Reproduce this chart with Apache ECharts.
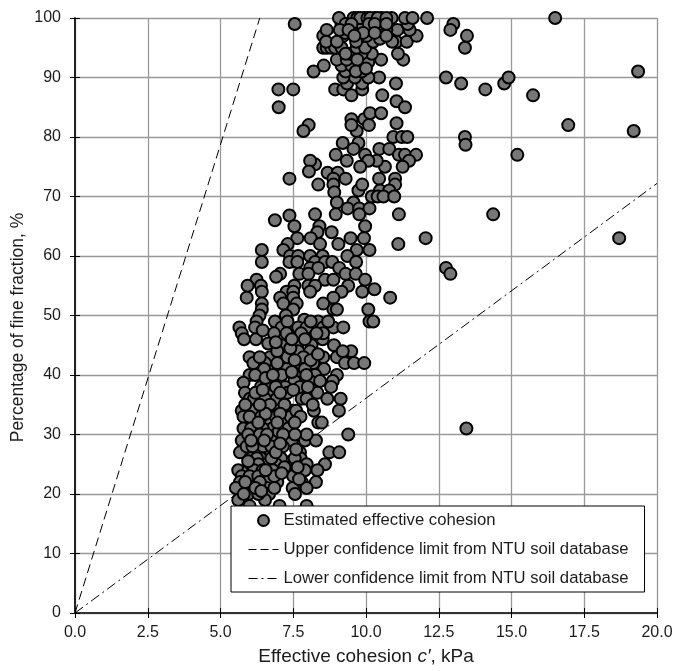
<!DOCTYPE html>
<html><head><meta charset="utf-8">
<script src="https://cdn.jsdelivr.net/npm/echarts@6/dist/echarts.min.js"></script>
<style>html,body{margin:0;padding:0;background:#fff}#c{width:676px;height:671px}</style>
</head><body><div id="c"></div>
<script>
const estimatedOutliers=[[16.5,100],[13,99],[12.9,98],[13.47,97],[13.4,95],[12.75,90],[13.27,89],[14.1,88],[14.75,89],[14.9,90],[15.74,87],[19.35,91],[16.95,82],[19.2,81],[13.4,80],[13.42,78.7],[15.2,77],[14.37,67],[18.7,63],[12.75,58],[12.9,57],[12.05,63],[13.45,31]];
const estimatedUpper=[[7.55,99],[6.99,88],[7.5,88],[7,85],[8.03,82],[7.85,81],[8.2,91],[8.55,92],[8.94,88],[9.22,88],[9.87,88],[9.5,87],[9.35,89],[9.87,89],[10.56,87],[11.03,89],[11.05,86],[11.34,85],[10.45,90],[10.08,90],[9.62,90],[9.22,90],[9.3,91],[9.85,92],[9.16,92],[9.5,92],[10.52,93],[11.28,93],[11.1,94],[10.08,92.6],[9,93],[9.34,93],[10.2,94],[9.45,94],[9.85,94],[8.53,95],[8.65,95],[8.8,95],[8.94,95],[9.16,95],[9.68,95],[9.97,95],[10.25,96],[11.05,96],[11.4,96],[10.9,96],[9.66,96],[9.22,97],[8.53,97],[8.65,98],[8.63,96],[9,96],[10.02,97],[10.48,96.5],[11.74,97],[11.5,98],[11.08,98],[10.7,98],[10.08,98],[9.62,98],[9.28,97.5],[9.16,99],[9.85,99],[10.48,99],[11.43,99],[9.57,100],[9.07,100],[9.93,100],[10.3,100],[10.54,100],[10.88,100],[11.34,100],[11.6,100],[12.1,100],[9.7,100],[9.8,100],[10.05,100],[10.15,100],[10.4,100],[10.7,100],[9.3,99],[9.5,99],[10.1,99],[10.3,99],[10.7,99],[9.1,98],[9.4,98],[9.9,97.5],[10.3,97.5],[9.6,97],[10.7,97],[9.3,94],[9.7,93],[9.85,91],[9.65,91],[10,91.5],[9.2,79],[9.74,79],[9.57,78],[8.96,77],[9.34,76],[9.97,77],[10.46,78],[10.8,78],[10.94,80],[11.23,80],[11.42,80],[9.68,81],[9.5,83],[9.5,82],[9.94,83],[10.1,82],[10.14,84],[10.52,84],[11.05,82.3],[11.13,77],[11.34,77],[11.72,77],[11.48,76],[11.26,75],[10.65,75],[10.37,76],[10.08,76],[9.8,75],[8.25,75.4],[8.08,76]];
const estimatedMiddle=[[7.37,73],[8.04,74.2],[8.36,72],[8.68,74],[9.03,74],[8.88,73],[9.3,73],[8.88,72],[8.91,70.7],[9.74,71],[9.87,72],[10.45,73],[11,73],[11,72],[10.48,71],[10.8,71],[10.2,70],[10.4,70],[10.6,70],[10.97,70],[9,69],[9.57,69],[9.37,68],[9.77,68],[10.12,68],[8.96,67],[9.77,67],[8.25,67],[11.13,67],[7.37,66.8],[6.87,66],[7.54,65],[8.4,65],[9.97,65],[8.33,64],[8.82,64],[7.64,63],[8.1,63],[9.47,63],[9.93,63],[7.31,62],[8.42,62],[9.05,62],[11.11,62],[7.16,61],[6.42,61],[9.68,61],[10.12,61],[6.42,59],[9.36,60],[7.39,60],[7.67,60],[8.08,60],[8.51,60],[7.37,59],[7.64,59],[8.25,59],[8.59,59],[8.84,59],[9.66,59],[8.08,58],[8.36,58],[9.08,58],[7.05,57],[7.71,57],[8.02,57],[6.91,56.5],[9.3,57],[9.65,57],[6.24,56],[8.59,56],[8.88,56],[9.97,56],[5.93,55],[6.39,55],[7.54,55],[8.02,55],[8.25,55],[9.39,55],[6.42,54],[7.27,54],[7.5,54],[8.08,54],[9.16,54],[9.87,54],[10.29,54.4],[5.9,53],[7.05,53],[7.5,53],[8.88,53],[10.83,53],[6.42,52],[7.16,52],[7.62,52],[8.53,52],[6.42,51],[7.5,51],[8.88,51],[9,51],[10.08,51],[6.34,50],[7.25,50],[6.24,49],[6.87,49],[7.88,49.3],[8.36,49],[10.12,49],[10.25,49],[5.65,48],[6.19,48],[7.1,48],[7.39,48],[7.67,48],[7.96,48],[8.53,48],[8.88,48],[9.22,48],[7.3,49],[8.1,49],[8.7,49]];
const estimatedLower=[[5.73,47],[5.81,46],[6.22,46],[6.84,47],[7.27,47],[7.77,47],[8.51,46],[8.13,46],[6.64,45.3],[7.1,45],[7.64,45],[8.13,45],[8.9,45],[8.53,47],[7.67,44],[8.08,44],[7.1,43],[6,43],[6.7,43],[8.53,43],[9,43],[9.49,44],[9.2,44],[9.28,42],[9.59,42],[9.94,42],[6.13,42],[6.53,42],[7.73,42],[8.19,42],[6.87,41],[6.5,41],[8.56,41],[6,40],[7.73,40],[9,40],[8.25,40],[7.27,41],[5.79,38.7],[6.19,40],[6.91,39],[7.54,39],[8.08,39],[8.42,39],[8.86,39],[6.39,38],[7.22,38],[7.73,38],[8.8,38],[5.84,37],[6.7,37],[7.3,37],[8.33,37],[6.01,36],[6.15,36],[6.53,36],[6.93,36],[7.79,36],[7.96,36],[8.67,36],[9.13,36],[5.73,34],[6.47,34],[6.95,34],[7.48,34],[8.21,34],[9.07,34],[8.17,35],[6.1,34],[6.7,35],[7.2,35],[5.79,33],[6.24,32],[6.7,32],[7.18,32],[7.41,33],[5.79,31],[6.19,31],[6.78,31],[7.33,31],[8.36,32],[8.48,32],[9.39,30],[5.73,29],[6.19,29],[6.84,29],[7.45,29],[7.9,29],[8.28,29],[7.96,30],[7.56,30],[5.84,27],[5.67,27],[6.3,27],[6.59,27],[7.14,28],[6.47,28],[7.73,27],[8.74,27],[9.08,27],[6.39,26],[7.08,26],[7.75,26],[8.59,25],[7.96,25],[5.61,24],[5.96,24],[6.59,25],[6.91,25],[7.5,25],[8.33,24],[7.56,24],[7.9,24],[5.73,23],[6.64,23],[7.5,23],[8.28,22],[6.13,22],[6.95,22],[7.79,22],[5.67,22],[6.59,22],[5.53,21],[7.96,21],[7.48,21],[6.13,21],[6.59,21],[7.56,20],[6.67,20],[5.96,20],[5.61,19],[6.53,19],[6,18],[7.03,18],[7.96,18],[6,33],[6.4,33],[6.9,33],[6.05,31],[6.45,31],[7,30.5],[5.95,30],[6.35,30],[6.6,30],[7.15,30],[5.9,28],[6.1,28],[6.75,28],[6.05,26],[6.25,26],[6.75,26],[6.9,27],[6.05,25],[6.3,25],[6.15,24],[6.45,24],[6.8,24],[6.0,23],[6.3,23],[5.85,22],[6.35,22],[6.85,23],[5.8,20],[6.3,20],[7.55,26],[7.6,27.5],[6.55,33.5],[7.05,33.5],[6.6,38.5],[6.9,38],[7.1,40],[7.45,40.5],[7.9,41],[8.0,38],[6.55,39.5],[7.3,43],[7.85,43],[8.1,42.5],[6.95,44],[7.4,44.5],[7.6,34],[7.75,33],[7.55,32],[7.05,28.5],[6.95,32],[6.35,35],[6.2,37],[6.45,37.5],[7.05,37],[7.5,37.5],[7.95,40],[8.35,43.5],[7.55,42.5],[6.8,40],[6.35,43],[6.95,42],[7.45,46],[7.9,46],[8.3,47],[6.45,47.5],[6.9,45.5],[5.85,35],[6.05,29],[6.5,29],[6.3,32],[5.95,25.5],[6.55,24],[6.2,21],[6.4,20.5],[7.2,24.5],[7.1,23.5],[6.85,21],[7.65,24.5],[7.7,22.5]];
const upperLimitLine=[[0,0],[6.35,100]];
const lowerLimitLine=[[0,0],[20,72.2]];
const seriesNames=["Estimated effective cohesion","Upper confidence limit from NTU soil database","Lower confidence limit from NTU soil database"];
const font="'Liberation Sans',Arial,sans-serif";
const ink='#1c1c1c';
const dashUpper=[9,5], dashLower=[10,4,2,4];
const chart=echarts.init(document.getElementById('c'),null,{renderer:'canvas'});
const points=[].concat(estimatedUpper,estimatedMiddle,estimatedLower,estimatedOutliers);
const innerTicks=(pos,extra)=>Object.assign({type:'value',position:pos,axisLine:{show:false},axisLabel:{show:false},splitLine:{show:false},axisTick:{inside:true,length:5,lineStyle:{color:'#000',width:1}}},extra);
chart.setOption({
 animation:false,backgroundColor:'#fff',
 grid:{left:75,top:18,width:582,height:595,outerBoundsMode:'none'},
 xAxis:[{type:'value',min:0,max:20,interval:2.5,
  name:"Effective cohesion {i|c′}, kPa",nameLocation:'middle',nameGap:34,
  nameTextStyle:{fontFamily:font,fontSize:19,color:ink,rich:{i:{fontStyle:'italic',fontFamily:font,fontSize:19,color:ink}}},
  axisLine:{onZero:false,lineStyle:{color:'#333',width:2}},axisTick:{length:5,lineStyle:{color:'#000',width:1}},
  axisLabel:{fontFamily:font,fontSize:16,color:ink,margin:12,formatter:v=>v.toFixed(1),showMaxLabel:true},
  splitLine:{show:true,lineStyle:{color:'#999',width:1.3}}},
  innerTicks('bottom',{min:0,max:20,interval:2.5})],
 yAxis:[{type:'value',min:0,max:100,interval:10,
  name:"Percentage of fine fraction, %",nameLocation:'middle',nameGap:48,nameMoveOverlap:false,
  nameTextStyle:{fontFamily:font,fontSize:17.5,color:ink,padding:[0,24,0,0]},
  axisLine:{onZero:false,lineStyle:{color:'#222',width:2}},axisTick:{length:5,lineStyle:{color:'#000',width:1}},
  axisLabel:{fontFamily:font,fontSize:16,color:ink,margin:14},
  splitLine:{show:true,lineStyle:{color:'#999',width:1.3}}},
  innerTicks('left',{min:0,max:100,interval:10})],
 legend:{orient:'vertical',left:231,top:506,padding:[6,16,5,17],itemGap:12,itemWidth:30,itemHeight:11,
  backgroundColor:'#fff',borderColor:'#000',borderWidth:1,
  textStyle:{fontFamily:font,fontSize:16.7,color:ink},z:20,
  data:[
   {name:seriesNames[0],itemStyle:{color:'#777',borderColor:'#000',borderWidth:2}},
   {name:seriesNames[1],itemStyle:{color:'transparent',borderColor:'transparent'},lineStyle:{color:'#000',width:1,type:[8,4]}},
   {name:seriesNames[2],itemStyle:{color:'transparent',borderColor:'transparent'},lineStyle:{color:'#000',width:1,type:[9,4,2,4]}}]},
 series:[
  {name:seriesNames[1],type:'line',data:upperLimitLine,symbol:'none',silent:true,lineStyle:{color:'#000',width:1,type:dashUpper},itemStyle:{color:'#000'},z:3},
  {name:seriesNames[2],type:'line',data:lowerLimitLine,symbol:'none',silent:true,lineStyle:{color:'#000',width:1,type:dashLower},itemStyle:{color:'#000'},z:3},
  {name:seriesNames[0],type:'scatter',data:points,symbol:'circle',symbolSize:12,clip:false,z:4,
   itemStyle:{color:'#777',borderColor:'#000',borderWidth:2,opacity:1}}
 ]
});
</script></body></html>
